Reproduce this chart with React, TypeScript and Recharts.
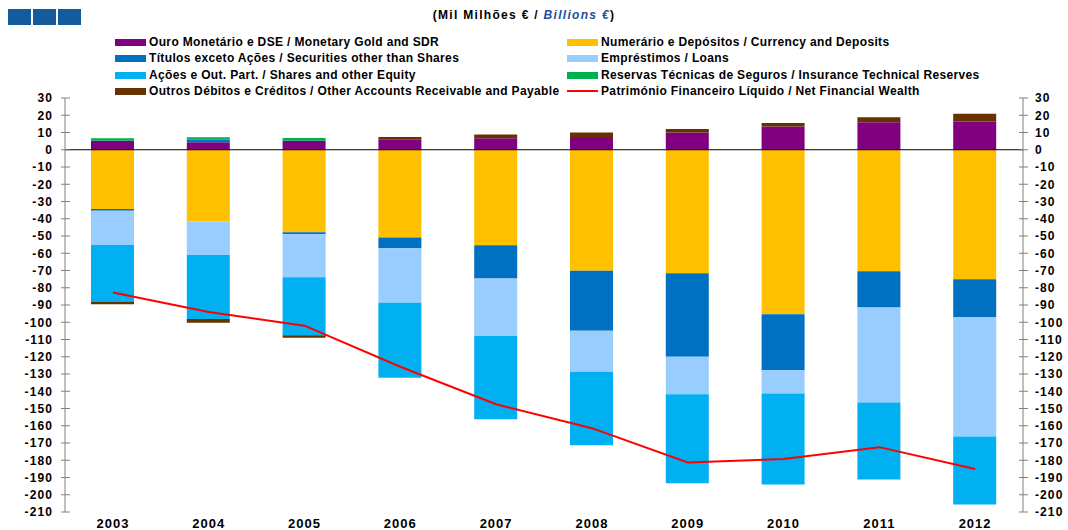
import React from 'react';
import { ComposedChart, Bar, Line, XAxis, YAxis, ReferenceLine } from 'recharts';

const years = ['2003', '2004', '2005', '2006', '2007', '2008', '2009', '2010', '2011', '2012'];
const gold = [5.2, 4.3, 5.2, 5.8, 6.6, 7.4, 10, 13.5, 15.9, 16.4];
const currency = [-34.4, -41.6, -47.8, -50.9, -55.4, -70.1, -71.6, -95.4, -70.5, -75.1];
const securities = [-1, 1.5, -1.2, -6.2, -19.3, -34.8, -48.4, -32.4, -20.9, -21.9];
const loans = [-19.8, -19.4, -24.9, -31.6, -33.3, -23.8, -21.7, -13.5, -55.1, -69.3];
const shares = [-33, -37.1, -33.7, -43.5, -48.2, -42.6, -51.7, -52.8, -44.6, -39.3];
const insurance = [1.5, 1.5, 1.6, 0, 0, 0, 0, 0, 0, 0];
const other = [-1.3, -2.2, -1.4, 1.6, 2.3, 2.6, 2, 2, 2.9, 4.5];
const netWealth = [-82.8, -94, -102, -125.8, -147.5, -161.4, -181.3, -179.3, -172.4, -185.1];
const yTicks = [30, 20, 10, 0, -10, -20, -30, -40, -50, -60, -70, -80, -90, -100, -110, -120, -130, -140, -150, -160, -170, -180, -190, -200, -210];

const series = [
    { key: 'gold', name: 'Ouro Monetário e DSE / Monetary Gold and SDR', color: '#800080', values: gold },
    { key: 'currency', name: 'Numerário e Depósitos / Currency and Deposits', color: '#FFC000', values: currency },
    { key: 'securities', name: 'Títulos exceto Ações / Securities other than Shares', color: '#0070C0', values: securities },
    { key: 'loans', name: 'Empréstimos / Loans', color: '#99CCFF', values: loans },
    { key: 'shares', name: 'Ações e Out. Part. / Shares and other Equity', color: '#00B0F0', values: shares },
    { key: 'insurance', name: 'Reservas Técnicas de Seguros / Insurance Technical Reserves', color: '#00B050', values: insurance },
    { key: 'other', name: 'Outros Débitos e Créditos / Other Accounts Receivable and Payable', color: '#663300', values: other },
];
const lineName = 'Património Financeiro Líquido / Net Financial Wealth';

const data = years.map((year, i) => {
    const row: Record<string, string | number> = { year, net: netWealth[i] };
    series.forEach(s => { row[s.key] = s.values[i]; });
    return row;
});

const font = '"Liberation Sans", Arial, sans-serif';
const TICK_SIZE = 5;
const TICK_MARGIN = 7;

// y tick: a short line crossing the axis plus the label
const makeTick = (side: 'left' | 'right') => (props: any) => {
    const { x, y, payload } = props;
    const axisX = side === 'left' ? x + TICK_SIZE + TICK_MARGIN : x - TICK_SIZE - TICK_MARGIN;
    return (
        <g>
            <line x1={axisX - 4} x2={axisX + 5} y1={y} y2={y} stroke="#808080" strokeWidth={1} />
            <text
                x={x}
                y={y}
                dy="0.36em"
                textAnchor={side === 'left' ? 'end' : 'start'}
                fontSize={12}
                fontWeight="bold"
                fill="#000"
                letterSpacing={1.1}
                fontFamily={font}
            >
                {payload.value}
            </text>
        </g>
    );
};

// legend in two columns, same order as the original
const leftCol = ['gold', 'securities', 'shares', 'other'];
const rightCol = ['currency', 'loans', 'insurance', 'net'];
const rowTops = [35, 51, 68, 84];

const LegendItem = ({ k, left, top }: { k: string; left: number; top: number }) => {
    const s = series.find(x => x.key === k);
    const color = s ? s.color : '#FF0000';
    const name = s ? s.name : lineName;
    return (
        <div style={{ position: 'absolute', left, top, display: 'flex', alignItems: 'center', whiteSpace: 'nowrap' }}>
            <div style={{ width: 31, height: s ? 7 : 2, background: color }} />
            <span style={{ marginLeft: 3, fontSize: 12, fontWeight: 'bold', letterSpacing: 0.35, lineHeight: '14px' }}>{name}</span>
        </div>
    );
};

const App: React.FC = () => {
    return (
        <div style={{ position: 'absolute', left: 0, top: 0, width: 1068, height: 530, background: '#fff', fontFamily: font }}>
            {[0, 1, 2].map(i => (
                <div key={i} style={{ position: 'absolute', left: 8 + i * 25, top: 9, width: 23, height: 16, background: '#125C9C' }} />
            ))}
            <div style={{ position: 'absolute', left: 0, width: 1048, top: 8, textAlign: 'center', fontSize: 12, fontWeight: 'bold', letterSpacing: 1.3 }}>
                (Mil Milhões € / <span style={{ color: '#1F4E9A', fontStyle: 'italic' }}>Billions €</span>)
            </div>
            {leftCol.map((k, i) => <LegendItem key={k} k={k} left={115} top={rowTops[i]} />)}
            {rightCol.map((k, i) => <LegendItem key={k} k={k} left={567} top={rowTops[i]} />)}
            <div style={{ position: 'absolute', left: 0, top: 0 }}>
                <ComposedChart
                    width={1068}
                    height={530}
                    data={data}
                    stackOffset="sign"
                    margin={{ top: 98, right: 5, bottom: 0, left: 5 }}
                    barSize={43}
                    style={{ fontFamily: font }}
                >
                    <XAxis
                        dataKey="year"
                        axisLine={false}
                        tickLine={false}
                        tickSize={0}
                        tickMargin={7}
                        height={18}
                        tick={{ fontSize: 13, fontWeight: 'bold', fill: '#000', letterSpacing: 1 }}
                    />
                    <YAxis
                        yAxisId="left"
                        domain={[-210, 30]}
                        ticks={yTicks}
                        interval={0}
                        width={60}
                        tickSize={TICK_SIZE}
                        tickMargin={TICK_MARGIN}
                        tickLine={false}
                        stroke="#808080"
                        tick={makeTick('left')}
                    />
                    <YAxis
                        yAxisId="right"
                        orientation="right"
                        domain={[-210, 30]}
                        ticks={yTicks}
                        interval={0}
                        width={40}
                        tickSize={TICK_SIZE}
                        tickMargin={TICK_MARGIN}
                        tickLine={false}
                        stroke="#808080"
                        tick={makeTick('right')}
                    />
                    {series.map(s => (
                        <Bar key={s.key} yAxisId="left" dataKey={s.key} name={s.name} stackId="a" fill={s.color} isAnimationActive={false} />
                    ))}
                    <ReferenceLine yAxisId="left" y={0} stroke="#000" strokeWidth={1} />
                    <Line
                        yAxisId="right"
                        type="linear"
                        dataKey="net"
                        name={lineName}
                        stroke="#FF0000"
                        strokeWidth={2}
                        dot={false}
                        isAnimationActive={false}
                    />
                </ComposedChart>
            </div>
        </div>
    );
};

export default App;
